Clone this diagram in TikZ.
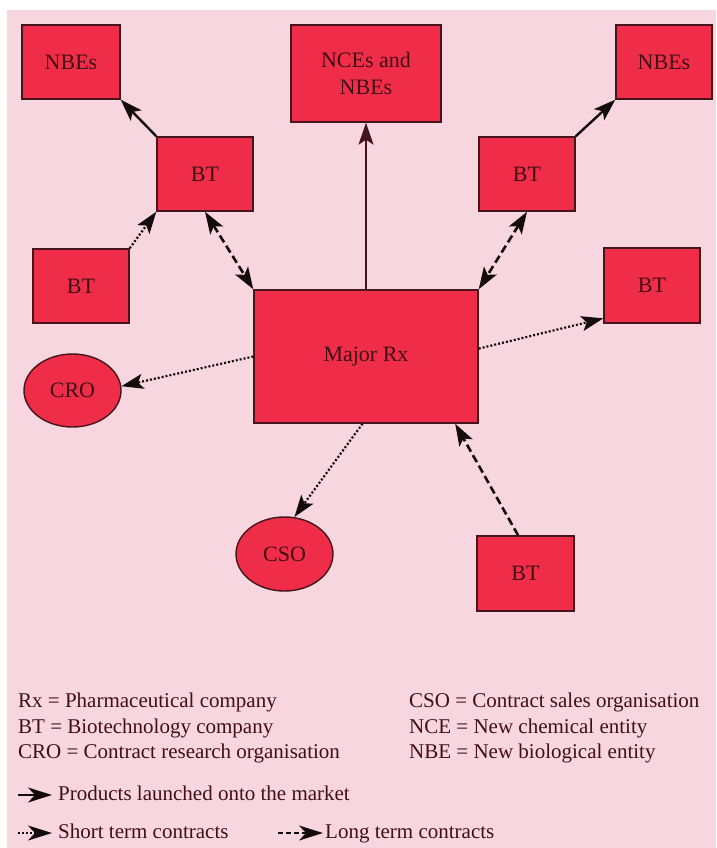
\documentclass[tikz,border=0pt]{standalone}
\usepackage{fontspec}
\setmainfont{Liberation Serif}
\usetikzlibrary{arrows.meta,shapes.geometric}

\definecolor{panel}{RGB}{247,214,224}
\definecolor{boxred}{RGB}{239,45,72}
\definecolor{edge}{RGB}{70,20,28}
\definecolor{ink}{RGB}{65,14,22}
\definecolor{arrowink}{RGB}{20,12,12}

\begin{document}
\begin{tikzpicture}[x=1pt,y=-1pt,
  every node/.style={font=\fontsize{21}{27}\selectfont, text=ink},
  entity/.style={draw=edge, line width=1.4pt, fill=boxred, rectangle,
    inner sep=0pt, align=center, font=\fontsize{22}{27}\selectfont},
  partner/.style={draw=edge, line width=1.4pt, fill=boxred, ellipse,
    inner sep=0pt, font=\fontsize{22}{27}\selectfont},
  head/.tip={Stealth[length=22pt,width=15pt,inset=5pt]},
  bighead/.tip={Stealth[length=24pt,width=15pt,inset=7pt]},
  tip/.style={-head},
  twotip/.style={head-head},
  launch/.style={draw=arrowink, line width=2.4pt, tip},
  shortdeal/.style={draw=arrowink, line width=2.2pt, dash pattern=on 2pt off 2pt},
  longdeal/.style={draw=arrowink, line width=2.6pt, dash pattern=on 8pt off 4pt},
  legtext/.style={anchor=west, inner sep=0pt, text height=14pt, text depth=4pt},
  legtip/.style={-bighead}
]
\useasboundingbox (0,0) rectangle (716,848);
\fill[white] (0,0) rectangle (716,848);
\fill[panel] (7,10) rectangle (716,848);

% products
\node[entity, minimum width=98pt, minimum height=74pt] (nbeL) at (71,62) {NBEs};
\node[entity, minimum width=150pt, minimum height=97pt] (nce) at (366,73.5) {NCEs and\\NBEs};
\node[entity, minimum width=96pt, minimum height=74pt] (nbeR) at (664,62) {NBEs};

% companies
\node[entity, minimum width=96pt, minimum height=74pt] (btL) at (205,174) {BT};
\node[entity, minimum width=96pt, minimum height=74pt] (btR) at (527,174) {BT};
\node[entity, minimum width=96pt, minimum height=74pt] (btLL) at (81,286) {BT};
\node[entity, minimum width=96pt, minimum height=75pt] (btRR) at (652,285.5) {BT};
\node[entity, minimum width=224pt, minimum height=133pt] (rx) at (366,356.5) {Major Rx};
\node[entity, minimum width=97pt, minimum height=75pt] (btB) at (525.5,573.5) {BT};

% service organisations
\node[partner, minimum width=97pt, minimum height=73pt] (cro) at (72.5,390.5) {CRO};
\node[partner, minimum width=97pt, minimum height=74pt] (cso) at (284.5,554) {CSO};

% products launched
\draw[launch] (btL.north west) -- (nbeL.south east);
\draw[launch] (btR.north east) -- (nbeR.south west);
\draw[launch, draw=edge, line width=1.8pt] (rx.north) -- (nce.south);

% long term contracts
\draw[longdeal, twotip] (btL.south) -- (rx.north west);
\draw[longdeal, twotip] (btR.south) -- (rx.north east);
\draw[longdeal, tip] (btB.101) -- (rx.323);

% short term contracts
\draw[shortdeal, tip] (btLL.north east) -- (btL.south west);
\draw[shortdeal, tip] (rx.4) -- (btRR.214);
\draw[shortdeal, tip] (rx.west) -- (cro.5);
\draw[shortdeal, tip] (rx.267) -- (cso.75);

% key
\node[legtext] (kRx) at (18,702) {Rx = Pharmaceutical company};
\node[legtext] (kBT) at (18,728) {BT = Biotechnology company};
\node[legtext] (kCRO) at (18,753) {CRO = Contract research organisation};
\node[legtext] (kCSO) at (409,702) {CSO = Contract sales organisation};
\node[legtext] (kNCE) at (409,728) {NCE = New chemical entity};
\node[legtext] (kNBE) at (409,753) {NBE = New biological entity};

\coordinate (pA) at (18,795);
\coordinate (pB) at (52,795);
\draw[draw=arrowink, line width=2pt, legtip] (pA) -- (pB);
\node[legtext] (kLaunch) at (58,795) {Products launched onto the market};

\coordinate (sA) at (18,833);
\coordinate (sB) at (52,833);
\draw[shortdeal, line width=2pt, legtip] (sA) -- (sB);
\node[legtext] (kShort) at (58,833) {Short term contracts};

\coordinate (lA) at (278,833);
\coordinate (lB) at (323,833);
\draw[draw=arrowink, line width=2pt, dash pattern=on 5pt off 3pt, legtip] (lA) -- (lB);
\node[legtext] (kLong) at (325,833) {Long term contracts};
\end{tikzpicture}
\end{document}
